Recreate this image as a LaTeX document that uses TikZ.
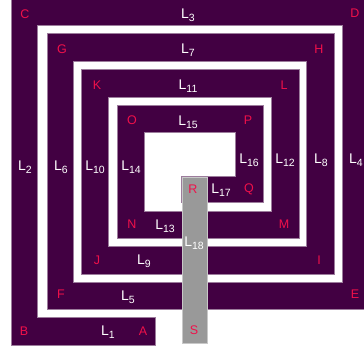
\documentclass[tikz,border=0pt]{standalone}
\usepackage{fontspec}
\setmainfont{Liberation Sans}
\definecolor{purp}{HTML}{420042}
\definecolor{pborder}{HTML}{9C7C9C}
\definecolor{ptred}{HTML}{F0104A}
\definecolor{barfill}{HTML}{999999}
\definecolor{barline}{HTML}{C8C8C8}
\newcommand\Lsub[1]{L\raisebox{-2.8pt}{\fontsize{10.5}{10.5}\selectfont #1}}
\begin{document}
\begin{tikzpicture}[x=1pt,y=-1pt,
  ptlabel/.style={text=ptred, font=\fontsize{12.5}{12.5}\selectfont, inner sep=0pt},
  seglabel/.style={text=white, font=\fontsize{14}{14}\selectfont, inner sep=0pt},
  trackedge/.style={draw=pborder, line width=1.2pt},
  trackfill/.style={fill=purp},
  barstyle/.style={fill=barfill, draw=barline, line width=1pt}]
\useasboundingbox (0,0) rectangle (364,350);
\def\tracks{12/318/155/345, 12/0/37/345, 12/0/364/25, 343/0/364/309,
  48/283/364/309, 48/34/73/309, 48/34/334/61, 307/34/334/274,
  82/247/334/274, 82/70/108/274, 82/70/299/97, 272/70/299/238,
  118/212/299/238, 118/106/144/238, 118/106/263/132, 236/106/263/202,
  182/177/263/202}
\foreach \a/\b/\c/\d in \tracks { \path[trackedge] (\a,\b) rectangle (\c,\d); }
\foreach \a/\b/\c/\d in \tracks { \path[trackfill] (\a,\b) rectangle (\c,\d); }
\path[barstyle] (182,177) rectangle (207,343);
% point labels
\node[ptlabel] (A) at (143,331) {A};
\node[ptlabel] (B) at (24,331) {B};
\node[ptlabel] (C) at (25,14) {C};
\node[ptlabel] (D) at (355,13) {D};
\node[ptlabel] (E) at (355,294) {E};
\node[ptlabel] (F) at (61,294) {F};
\node[ptlabel] (G) at (62,49) {G};
\node[ptlabel] (H) at (319,49) {H};
\node[ptlabel] (I) at (319,260) {I};
\node[ptlabel] (J) at (97,260) {J};
\node[ptlabel] (K) at (97,85) {K};
\node[ptlabel] (L) at (284,85) {L};
\node[ptlabel] (M) at (284,224) {M};
\node[ptlabel] (N) at (132,224) {N};
\node[ptlabel] (O) at (132,120) {O};
\node[ptlabel] (P) at (248,120) {P};
\node[ptlabel] (Q) at (249,189) {Q};
\node[ptlabel] (R) at (193,189) {R};
\node[ptlabel] (S) at (194,330) {S};
% segment labels
\node[seglabel] (L1) at (108,332) {\Lsub{1}};
\node[seglabel] (L2) at (25,167) {\Lsub{2}};
\node[seglabel] (L3) at (188,15) {\Lsub{3}};
\node[seglabel] (L4) at (356,160) {\Lsub{4}};
\node[seglabel] (L5) at (128,297) {\Lsub{5}};
\node[seglabel] (L6) at (61,167) {\Lsub{6}};
\node[seglabel] (L7) at (188,50) {\Lsub{7}};
\node[seglabel] (L8) at (321,160) {\Lsub{8}};
\node[seglabel] (L9) at (144,261) {\Lsub{9}};
\node[seglabel] (L10) at (95,167) {\Lsub{10}};
\node[seglabel] (L11) at (188,86) {\Lsub{11}};
\node[seglabel] (L12) at (285,160) {\Lsub{12}};
\node[seglabel] (L13) at (165,226) {\Lsub{13}};
\node[seglabel] (L14) at (131,167) {\Lsub{14}};
\node[seglabel] (L15) at (188,122) {\Lsub{15}};
\node[seglabel] (L16) at (249,160) {\Lsub{16}};
\node[seglabel] (L17) at (221,190) {\Lsub{17}};
\node[seglabel] (L18) at (194,243) {\Lsub{18}};
\end{tikzpicture}
\end{document}
